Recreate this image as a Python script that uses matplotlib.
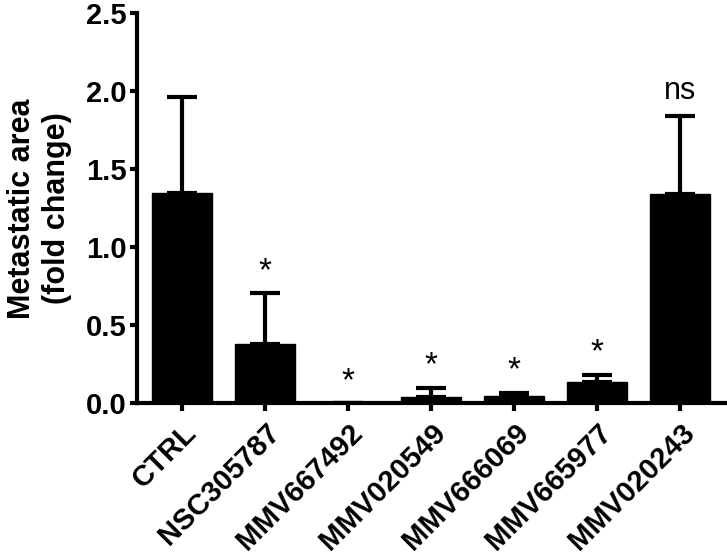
import matplotlib
matplotlib.use("Agg")
import matplotlib.pyplot as plt
import numpy as np

plt.rcParams['font.family'] = ['Liberation Sans', 'DejaVu Sans']

groups = ["CTRL", "NSC305787", "MMV667492", "MMV020549", "MMV666069", "MMV665977", "MMV020243"]
means = [1.35, 0.38, 0.0, 0.04, 0.045, 0.135, 1.345]
errors = [0.615, 0.325, 0.0, 0.06, 0.025, 0.05, 0.50]
signif = ["", "*", "*", "*", "*", "*", "ns"]

fig = plt.figure(figsize=(7.27, 5.55), dpi=100)
ax = fig.add_axes([0.189, 0.273, 0.808, 0.703])

x = np.arange(len(groups))
ax.bar(x, means, width=0.72, color="black", edgecolor="black", zorder=2)
ax.errorbar(x, means, yerr=[np.zeros(len(means)), errors], fmt="none",
            ecolor="black", elinewidth=3, capsize=11, capthick=3, zorder=1)

# significance marks above the error caps
for xi, m, e, s in zip(x, means, errors, signif):
    if s:
        off = 0.14 if s == "*" else 0.16
        ax.text(xi, m + e + off, s, ha="center", va="center", fontsize=24 if s == "*" else 22)

ax.set_xlim(-0.54, len(groups) - 0.46)
ax.set_ylim(0, 2.5)
ax.set_yticks([0.0, 0.5, 1.0, 1.5, 2.0, 2.5])
ax.set_yticklabels(["0.0", "0.5", "1.0", "1.5", "2.0", "2.5"], fontsize=21, fontweight="bold")
ax.set_xticks(x)
ax.set_xticklabels(groups, rotation=45, ha="right", rotation_mode="anchor",
                   fontsize=21, fontweight="bold")
ax.set_ylabel("Metastatic area\n(fold change)", fontsize=22, fontweight="bold", labelpad=10)

for side in ["top", "right"]:
    ax.spines[side].set_visible(False)
for side in ["left", "bottom"]:
    ax.spines[side].set_linewidth(3)
ax.tick_params(axis="y", direction="out", length=5, width=3, pad=3)
ax.tick_params(axis="x", direction="out", length=6, width=3, pad=5)

fig.savefig("out.png", dpi=100)
